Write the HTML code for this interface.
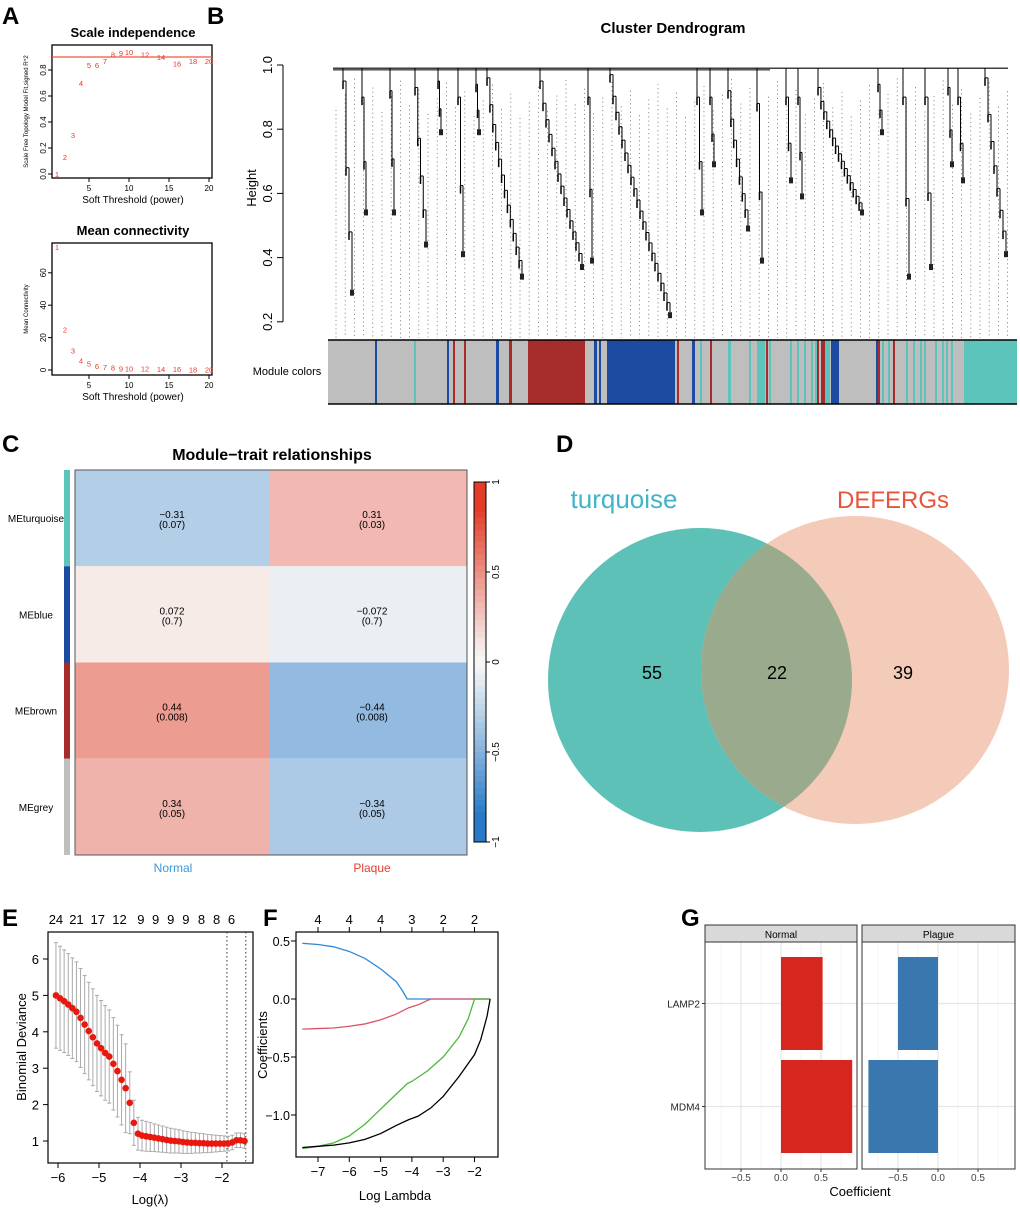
<!DOCTYPE html>
<html><head><meta charset="utf-8"><style>
body{margin:0;background:#fff;}
svg{display:block;font-family:"Liberation Sans",Arial,sans-serif;}
.lt{font-weight:bold;font-size:24px;}
</style></head><body>
<svg id="fig" width="1020" height="1208" viewBox="0 0 1020 1208">
<text class="lt" x="2" y="24">A</text>
<text class="lt" x="207" y="24">B</text>
<text class="lt" x="2" y="452">C</text>
<text class="lt" x="556" y="452">D</text>
<text class="lt" x="2" y="926">E</text>
<text class="lt" x="263" y="926">F</text>
<text class="lt" x="681" y="926">G</text>
<g id="gA"></g>
<g id="gB"></g>
<g id="gC"></g>
<g id="gD"></g>
<g id="gE"></g>
<g id="gF"></g>
<g id="gG"></g>
</svg>
<script>
// ---- Panel A data ----
const powers=[1,2,3,4,5,6,7,8,9,10,12,14,16,18,20];
const fitR2=[0.0,0.13,0.3,0.7,0.84,0.84,0.87,0.92,0.93,0.94,0.92,0.9,0.85,0.87,0.87];
const meanK=[76,25,12,6,4,2.5,2,1.5,1,1,0.8,0.6,0.5,0.4,0.3];
const aXTicks=[5,10,15,20];
const aY1Ticks=[0,0.2,0.4,0.6,0.8];
const aY2Ticks=[0,20,40,60];
// ---- Panel B data ----
const moduleSegs=[["#1b4aa0",375,377],["#5cc4bb",414,416],["#1b4aa0",447,449],["#a52c2a",453,455],["#a52c2a",464,466],["#1b4aa0",496,499],["#a52c2a",509,512],["#a52c2a",528,585],["#1b4aa0",594,597],["#1b4aa0",599,601],["#1b4aa0",607,675],["#a52c2a",677,679],["#1b4aa0",692,695],["#5cc4bb",700,702],["#a52c2a",710,712],["#5cc4bb",728,731],["#5cc4bb",749,751],["#5cc4bb",757,765],["#a52c2a",766,768],["#5cc4bb",769,771],["#5cc4bb",790,792],["#5cc4bb",797,799],["#5cc4bb",804,806],["#5cc4bb",811,813],["#5cc4bb",815,817],["#a52c2a",817,819],["#a52c2a",821,825],["#5cc4bb",825,830],["#1b4aa0",831,839],["#1b4aa0",876,878],["#a52c2a",878,880],["#5cc4bb",882,884],["#5cc4bb",888,890],["#a52c2a",893,895],["#5cc4bb",906,908],["#5cc4bb",913,915],["#5cc4bb",920,922],["#5cc4bb",924,926],["#5cc4bb",935,937],["#5cc4bb",942,944],["#5cc4bb",946,948],["#5cc4bb",951,953],["#5cc4bb",964,1017]];
const clusterX0=[343,362,390,415,438,458,476,487,540,588,610,697,710,728,757,786,798,818,878,903,925,948,958,985];
const clusterX1=[352,366,394,426,441,463,479,522,582,592,670,702,714,748,762,791,802,862,882,909,931,952,963,1006];
const clusterTop=[0.95,0.9,0.92,0.93,0.95,0.9,0.94,0.96,0.95,0.9,0.97,0.9,0.9,0.92,0.88,0.9,0.9,0.93,0.94,0.9,0.9,0.93,0.9,0.96];
const clusterBottom=[0.3,0.55,0.55,0.45,0.8,0.42,0.8,0.35,0.38,0.4,0.23,0.55,0.7,0.5,0.4,0.65,0.6,0.55,0.8,0.35,0.38,0.7,0.65,0.42];
const bYTicks=[0.2,0.4,0.6,0.8,1.0];
// ---- Panel C data ----
const modules=["MEturquoise","MEblue","MEbrown","MEgrey"];
const moduleColors=["#5cc4bb","#1b4aa0","#a52c2a","#bebebe"];
const traits=["Normal","Plaque"];
const corNormal=[-0.31,0.072,0.44,0.34];
const corPlaque=[0.31,-0.072,-0.44,-0.34];
const pNormal=["(0.07)","(0.7)","(0.008)","(0.05)"];
const pPlaque=["(0.03)","(0.7)","(0.008)","(0.05)"];
const cbTicks=[1,0.5,0,-0.5,-1];
// ---- Panel D data ----
const vennCounts=[55,22,39];
const vennSets=["turquoise","DEFERGs"];
// ---- Panel E data ----
const eLogLambda=[-6.05,-5.95,-5.85,-5.75,-5.65,-5.55,-5.45,-5.35,-5.25,-5.15,-5.05,-4.95,-4.85,-4.75,-4.65,-4.55,-4.45,-4.35,-4.25,-4.15,-4.05,-3.95,-3.85,-3.75,-3.65,-3.55,-3.45,-3.35,-3.25,-3.15,-3.05,-2.95,-2.85,-2.75,-2.65,-2.55,-2.45,-2.35,-2.25,-2.15,-2.05,-1.95,-1.85,-1.75,-1.65,-1.55,-1.45];
const eDev=[5.0,4.92,4.84,4.75,4.65,4.55,4.38,4.2,4.02,3.85,3.68,3.55,3.42,3.32,3.12,2.92,2.68,2.45,2.05,1.5,1.2,1.15,1.13,1.11,1.09,1.07,1.05,1.03,1.01,1.0,0.99,0.97,0.96,0.95,0.95,0.94,0.94,0.93,0.93,0.93,0.93,0.93,0.93,0.96,1.02,1.02,1.0];
const eSE=[1.45,1.43,1.41,1.4,1.38,1.37,1.36,1.35,1.34,1.33,1.32,1.31,1.3,1.28,1.27,1.26,1.24,1.22,0.85,0.62,0.45,0.42,0.41,0.4,0.38,0.37,0.36,0.35,0.34,0.33,0.32,0.31,0.3,0.29,0.28,0.27,0.26,0.25,0.24,0.23,0.22,0.21,0.2,0.2,0.2,0.2,0.2];
const eTopLabels=["24","21","17","12","9","9","9","9","8","8","6"];
const eTopPos=[-6.05,-5.55,-5.03,-4.5,-3.98,-3.62,-3.25,-2.88,-2.5,-2.13,-1.77];
const eXTicks=[-6,-5,-4,-3,-2];
const eYTicks=[1,2,3,4,5,6];
const eVlines=[-1.88,-1.42];
// ---- Panel F data ----
const fBlueX=[-7.5,-7,-6.5,-6,-5.5,-5,-4.5,-4.3,-4.15,-3,-2,-1.5];
const fBlueY=[0.48,0.47,0.45,0.41,0.35,0.26,0.15,0.07,0,0,0,0];
const fRedX=[-7.5,-7,-6.5,-6,-5.5,-5,-4.5,-4.1,-3.8,-3.4,-2,-1.5];
const fRedY=[-0.26,-0.255,-0.25,-0.235,-0.215,-0.18,-0.13,-0.075,-0.05,0,0,0];
const fGreenX=[-7.5,-7,-6.5,-6,-5.5,-5,-4.5,-4.15,-4,-3.5,-3,-2.5,-2.2,-2,-1.5];
const fGreenY=[-1.29,-1.27,-1.24,-1.18,-1.08,-0.95,-0.82,-0.73,-0.71,-0.62,-0.5,-0.33,-0.17,0,0];
const fBlackX=[-7.5,-7,-6.5,-6,-5.5,-5,-4.5,-4.1,-3.8,-3.4,-3,-2.5,-2,-1.8,-1.6,-1.5];
const fBlackY=[-1.28,-1.27,-1.26,-1.24,-1.21,-1.16,-1.09,-1.04,-1.01,-0.94,-0.84,-0.67,-0.48,-0.35,-0.15,0];
const fTopLabels=["4","4","4","3","2","2"];
const fTopPos=[-7,-6,-5,-4,-3,-2];
const fXTicks=[-7,-6,-5,-4,-3,-2];
const fYTicks=[0.5,0,-0.5,-1];
const fYLabels=["0.5","0.0","\u22120.5","\u22121.0"];
// ---- Panel G data ----
const genes=["LAMP2","MDM4"];
const coefNormal=[0.52,0.89];
const coefPlaque=[-0.5,-0.87];
const gXTicks=[-0.5,0,0.5];

const NS="http://www.w3.org/2000/svg";
function el(parent,tag,attrs,txt){const e=document.createElementNS(NS,tag);for(const k in attrs)e.setAttribute(k,attrs[k]);if(txt!==undefined)e.textContent=txt;parent.appendChild(e);return e;}
function fmt(v){return (v<0?"\u2212":"")+Math.abs(v);}

// ===== Panel A =====
(function(){
const g=document.getElementById('gA');
const xA=p=>89+(p-5)*8;
function frame(y0,y1,title,ylab,yf,ticks,tf){
  el(g,'text',{x:133,y:y0-8,'text-anchor':'middle','font-size':13,'font-weight':'bold'},title);
  el(g,'rect',{x:52,y:y0,width:160,height:y1-y0,fill:'none',stroke:'#000','stroke-width':1.3});
  aXTicks.forEach(t=>{el(g,'line',{x1:xA(t),x2:xA(t),y1:y1,y2:y1+4,stroke:'#000'});
    const tx=el(g,'text',{x:xA(t),y:y1+13,'text-anchor':'middle','font-size':8},String(t));
    });
  ticks.forEach(t=>{el(g,'line',{x1:48,x2:52,y1:yf(t),y2:yf(t),stroke:'#000'});
    el(g,'text',{x:44,y:yf(t),'text-anchor':'middle','font-size':8,transform:`rotate(-90 44 ${yf(t)})`,'dominant-baseline':'middle'},tf(t));});
  el(g,'text',{x:133,y:y1+25,'text-anchor':'middle','font-size':10},'Soft Threshold (power)');
  el(g,'text',{x:28,y:(y0+y1)/2,'text-anchor':'middle','font-size':6,transform:`rotate(-90 28 ${(y0+y1)/2})`},ylab);
}
const y1f=v=>174-v*130;
frame(45,178,'Scale independence','Scale Free Topology Model Fit,signed R^2',y1f,aY1Ticks,t=>t.toFixed(1));
el(g,'line',{x1:52,x2:212,y1:y1f(0.9),y2:y1f(0.9),stroke:'#f0553f','stroke-width':1.3});
powers.forEach((p,i)=>{const t=el(g,'text',{x:xA(p),y:y1f(fitR2[i])+3,'text-anchor':'middle','font-size':7.5,fill:'#e8372a'},String(p));
  });
const y2f=v=>370-v*1.62;
frame(243,375,'Mean connectivity','Mean Connectivity',y2f,aY2Ticks,t=>String(t));
powers.forEach((p,i)=>{const t=el(g,'text',{x:xA(p),y:y2f(meanK[i])+3,'text-anchor':'middle','font-size':7.5,fill:'#e8372a'},String(p));
  });
})();

// ===== Panel B =====
(function(){
const g=document.getElementById('gB');
const yB=h=>65+(1-h)*321;
el(g,'text',{x:673,y:33,'text-anchor':'middle','font-size':15,'font-weight':'bold'},'Cluster Dendrogram');
el(g,'line',{x1:283,x2:283,y1:yB(1),y2:yB(0.2),stroke:'#000'});
bYTicks.forEach(t=>{el(g,'line',{x1:277,x2:283,y1:yB(t),y2:yB(t),stroke:'#000'});
  el(g,'text',{x:272,y:yB(t),'text-anchor':'middle','font-size':13,transform:`rotate(-90 272 ${yB(t)})`},t.toFixed(1));});
el(g,'text',{x:256,y:188,'text-anchor':'middle','font-size':13,transform:'rotate(-90 256 188)'},'Height');
for(let x=336;x<1014;x+=9.2){el(g,'line',{x1:x,x2:x,y1:yB(0.96)+((x*7)%40),y2:338,stroke:'#666','stroke-width':0.7,'stroke-dasharray':'1.2,3'});}
el(g,'line',{x1:333,x2:1008,y1:yB(0.99),y2:yB(0.99),stroke:'#000','stroke-width':1.2});
el(g,'line',{x1:333,x2:770,y1:yB(0.985),y2:yB(0.985),stroke:'#000','stroke-width':1});
clusterX0.forEach((x0,i)=>{
  const x1=clusterX1[i],ht=clusterTop[i],hb=clusterBottom[i];
  const n=Math.max(2,Math.round((x1-x0)/3));
  el(g,'line',{x1:x0,x2:x0,y1:yB(0.99),y2:yB(ht),stroke:'#000','stroke-width':1});
  let px=x0,py=yB(ht);
  for(let k=1;k<=n;k++){
    const nx=x0+(x1-x0)*k/n, ny=yB(ht-(ht-hb)*Math.pow(k/n,0.8));
    el(g,'line',{x1:px,x2:nx,y1:py,y2:py,stroke:'#000','stroke-width':1});
    el(g,'line',{x1:nx,x2:nx,y1:py,y2:ny,stroke:'#000','stroke-width':1});
    el(g,'line',{x1:px,x2:px,y1:py,y2:py+8,stroke:'#000','stroke-width':1.5});
    px=nx;py=ny;
  }
  el(g,'rect',{x:px-2,y:py,width:4,height:6,fill:'#222'});
});
el(g,'rect',{x:328,y:340,width:689,height:64,fill:'#bebebe'});
moduleSegs.forEach(s=>{const r=el(g,'rect',{x:s[1],y:340,width:s[2]-s[1],height:64,fill:s[0]});
  });
el(g,'line',{x1:328,x2:1017,y1:340,y2:340,stroke:'#000','stroke-width':1.5});
el(g,'line',{x1:328,x2:1017,y1:404,y2:404,stroke:'#000','stroke-width':1.5});
el(g,'text',{x:287,y:375,'text-anchor':'middle','font-size':11},'Module colors');
})();

// ===== Panel C =====
(function(){
const g=document.getElementById('gC');
el(g,'text',{x:272,y:460,'text-anchor':'middle','font-size':16,'font-weight':'bold'},'Module\u2212trait relationships');
function col(v){
  const t=Math.min(1,1.2*Math.pow(Math.abs(v),1.1));
  const c=v>=0?[226,60,40]:[40,122,200];
  const w=[248,247,246];
  return `rgb(${Math.round(w[0]+(c[0]-w[0])*t)},${Math.round(w[1]+(c[1]-w[1])*t)},${Math.round(w[2]+(c[2]-w[2])*t)})`;}
const x0=75,xm=269,x1=467,y0=470,rh=96.25;
modules.forEach((m,i)=>{
  const yy=y0+i*rh;
  const a=el(g,'rect',{x:x0,y:yy,width:xm-x0,height:rh,fill:col(corNormal[i])});
  
  const b=el(g,'rect',{x:xm,y:yy,width:x1-xm,height:rh,fill:col(corPlaque[i])});
  
  el(g,'rect',{x:64,y:yy,width:6,height:rh,fill:moduleColors[i]});
  el(g,'text',{x:36,y:yy+rh/2+4,'text-anchor':'middle','font-size':10},m);
  el(g,'text',{x:172,y:yy+rh/2,'text-anchor':'middle','font-size':10},fmt(corNormal[i]));
  el(g,'text',{x:172,y:yy+rh/2+10,'text-anchor':'middle','font-size':10},pNormal[i]);
  el(g,'text',{x:372,y:yy+rh/2,'text-anchor':'middle','font-size':10},fmt(corPlaque[i]));
  el(g,'text',{x:372,y:yy+rh/2+10,'text-anchor':'middle','font-size':10},pPlaque[i]);
});
el(g,'rect',{x:x0,y:y0,width:x1-x0,height:rh*4,fill:'none',stroke:'#555','stroke-width':1});
el(g,'text',{x:173,y:872,'text-anchor':'middle','font-size':12,fill:'#3a9ad9'},traits[0]);
el(g,'text',{x:372,y:872,'text-anchor':'middle','font-size':12,fill:'#e0412f'},traits[1]);
const cy=v=>662-v*180;
for(let k=0;k<60;k++){const v=1-2*k/60;el(g,'rect',{x:474,y:cy(v),width:12,height:6.2,fill:col(v-1/60)});}
el(g,'rect',{x:474,y:cy(1),width:12,height:360,fill:'none',stroke:'#000'});
cbTicks.forEach(t=>{el(g,'line',{x1:486,x2:490,y1:cy(t),y2:cy(t),stroke:'#000'});
  el(g,'text',{x:499,y:cy(t),'text-anchor':'middle','font-size':10,transform:`rotate(-90 499 ${cy(t)})`},fmt(t));});
})();

// ===== Panel D =====
(function(){
const g=document.getElementById('gD');
const defs=el(g,'defs',{});
const cp=el(defs,'clipPath',{id:'clipL'});
el(cp,'circle',{cx:700,cy:680,r:152});
const l=el(g,'circle',{cx:700,cy:680,r:152,fill:'#5ec1b7'});

const r=el(g,'circle',{cx:855,cy:670,r:154,fill:'#f4cbb8'});

el(g,'circle',{cx:855,cy:670,r:154,fill:'#9aab8d','clip-path':'url(#clipL)'});
el(g,'text',{x:624,y:508,'text-anchor':'middle','font-size':26,fill:'#41b4c8'},vennSets[0]);
el(g,'text',{x:893,y:508,'text-anchor':'middle','font-size':24,fill:'#e8533a'},vennSets[1]);
[[652,vennCounts[0]],[777,vennCounts[1]],[903,vennCounts[2]]].forEach(d=>{
  const t=el(g,'text',{x:d[0],y:679,'text-anchor':'middle','font-size':18},String(d[1]));
  });
})();

// ===== Panel E =====
(function(){
const g=document.getElementById('gE');
const xE=v=>58+(v+6)*41, yE=v=>1141-(v-1)*36.4;
el(g,'rect',{x:48,y:932,width:205,height:231,fill:'none',stroke:'#000','stroke-width':1.2});
eXTicks.forEach(t=>{el(g,'line',{x1:xE(t),x2:xE(t),y1:1163,y2:1168,stroke:'#000'});
  el(g,'text',{x:xE(t),y:1182,'text-anchor':'middle','font-size':13},fmt(t));});
eYTicks.forEach(t=>{el(g,'line',{x1:43,x2:48,y1:yE(t),y2:yE(t),stroke:'#000'});
  el(g,'text',{x:39,y:yE(t)+5,'text-anchor':'end','font-size':13},String(t));});
eTopLabels.forEach((s,i)=>el(g,'text',{x:xE(eTopPos[i]),y:924,'text-anchor':'middle','font-size':13},s));
el(g,'text',{x:26,y:1047,'text-anchor':'middle','font-size':13,transform:'rotate(-90 26 1047)'},'Binomial Deviance');
el(g,'text',{x:150,y:1204,'text-anchor':'middle','font-size':13},'Log(\u03bb)');
eVlines.forEach(v=>el(g,'line',{x1:xE(v),x2:xE(v),y1:932,y2:1163,stroke:'#333','stroke-dasharray':'1.5,2.5'}));
eLogLambda.forEach((v,i)=>{const x=xE(v);
  el(g,'line',{x1:x,x2:x,y1:yE(eDev[i]+eSE[i]),y2:yE(eDev[i]-eSE[i]),stroke:'#aaa','stroke-width':1});
  el(g,'line',{x1:x-2,x2:x+2,y1:yE(eDev[i]+eSE[i]),y2:yE(eDev[i]+eSE[i]),stroke:'#aaa'});
  el(g,'line',{x1:x-2,x2:x+2,y1:yE(eDev[i]-eSE[i]),y2:yE(eDev[i]-eSE[i]),stroke:'#aaa'});});
eLogLambda.forEach((v,i)=>{const c=el(g,'circle',{cx:xE(v),cy:yE(eDev[i]),r:3.3,fill:'#e8180f'});
  });
})();

// ===== Panel F =====
(function(){
const g=document.getElementById('gF');
const xF=v=>318+(v+7)*31.3, yF=v=>999-v*116;
el(g,'rect',{x:296,y:932,width:202,height:225,fill:'none',stroke:'#000','stroke-width':1.2});
fXTicks.forEach(t=>{el(g,'line',{x1:xF(t),x2:xF(t),y1:1157,y2:1162,stroke:'#000'});
  el(g,'text',{x:xF(t),y:1176,'text-anchor':'middle','font-size':13},fmt(t));});
fTopLabels.forEach((s,i)=>{el(g,'line',{x1:xF(fTopPos[i]),x2:xF(fTopPos[i]),y1:927,y2:932,stroke:'#000'});
  el(g,'text',{x:xF(fTopPos[i]),y:924,'text-anchor':'middle','font-size':13},s);});
fYTicks.forEach((t,i)=>{el(g,'line',{x1:291,x2:296,y1:yF(t),y2:yF(t),stroke:'#000'});
  el(g,'text',{x:290,y:yF(t)+5,'text-anchor':'end','font-size':12.5},fYLabels[i]);});
el(g,'text',{x:267,y:1045,'text-anchor':'middle','font-size':13,transform:'rotate(-90 267 1045)'},'Coefficients');
el(g,'text',{x:395,y:1200,'text-anchor':'middle','font-size':13},'Log Lambda');
[[fBlueX,fBlueY,'#2d8ad8','path-blue'],[fRedX,fRedY,'#d9546a','path-red'],[fGreenX,fGreenY,'#4cb83a','path-green'],[fBlackX,fBlackY,'#000','path-black']].forEach(s=>{
  const p=el(g,'polyline',{points:s[0].map((x,i)=>xF(x)+','+yF(s[1][i])).join(' '),fill:'none',stroke:s[2],'stroke-width':1.3});
  });
})();

// ===== Panel G =====
(function(){
const g=document.getElementById('gG');
const panels=[[705,857,coefNormal,'#d7261e','Normal'],[862,1015,coefPlaque,'#3a77ae','Plague']];
const bandY=[957,1060],bh=93;
panels.forEach((P,pi)=>{
  const x0=pi===0?781:938; const xG=v=>x0+v*80;
  el(g,'rect',{x:P[0],y:942,width:P[1]-P[0],height:227,fill:'#fff'});
  [-0.75,-0.25,0.25,0.75].forEach(t=>el(g,'line',{x1:xG(t),x2:xG(t),y1:942,y2:1169,stroke:'#f0f0f0','stroke-width':0.7}));
  gXTicks.forEach(t=>el(g,'line',{x1:xG(t),x2:xG(t),y1:942,y2:1169,stroke:'#e6e6e6','stroke-width':1.2}));
  bandY.forEach(y=>el(g,'line',{x1:P[0],x2:P[1],y1:y+bh/2,y2:y+bh/2,stroke:'#e6e6e6','stroke-width':1.2}));
  P[2].forEach((v,i)=>{const r=el(g,'rect',{x:Math.min(xG(0),xG(v)),y:bandY[i],width:Math.abs(xG(v)-xG(0)),height:bh,fill:P[3]});
    });
  el(g,'rect',{x:P[0],y:942,width:P[1]-P[0],height:227,fill:'none',stroke:'#333','stroke-width':1});
  el(g,'rect',{x:P[0],y:925,width:P[1]-P[0],height:17,fill:'#d9d9d9',stroke:'#333','stroke-width':1});
  el(g,'text',{x:(P[0]+P[1])/2,y:938,'text-anchor':'middle','font-size':10},P[4]);
  gXTicks.forEach(t=>{el(g,'line',{x1:xG(t),x2:xG(t),y1:1169,y2:1172,stroke:'#333'});
    el(g,'text',{x:xG(t),y:1181,'text-anchor':'middle','font-size':10,fill:'#444'},t===0?'0.0':fmt(t));});
});
genes.forEach((s,i)=>{el(g,'line',{x1:702,x2:705,y1:bandY[i]+bh/2,y2:bandY[i]+bh/2,stroke:'#333'});
  el(g,'text',{x:700,y:bandY[i]+bh/2+4,'text-anchor':'end','font-size':10,fill:'#222'},s);});
el(g,'text',{x:860,y:1196,'text-anchor':'middle','font-size':13},'Coefficient');
})();
</script>
</body></html>
